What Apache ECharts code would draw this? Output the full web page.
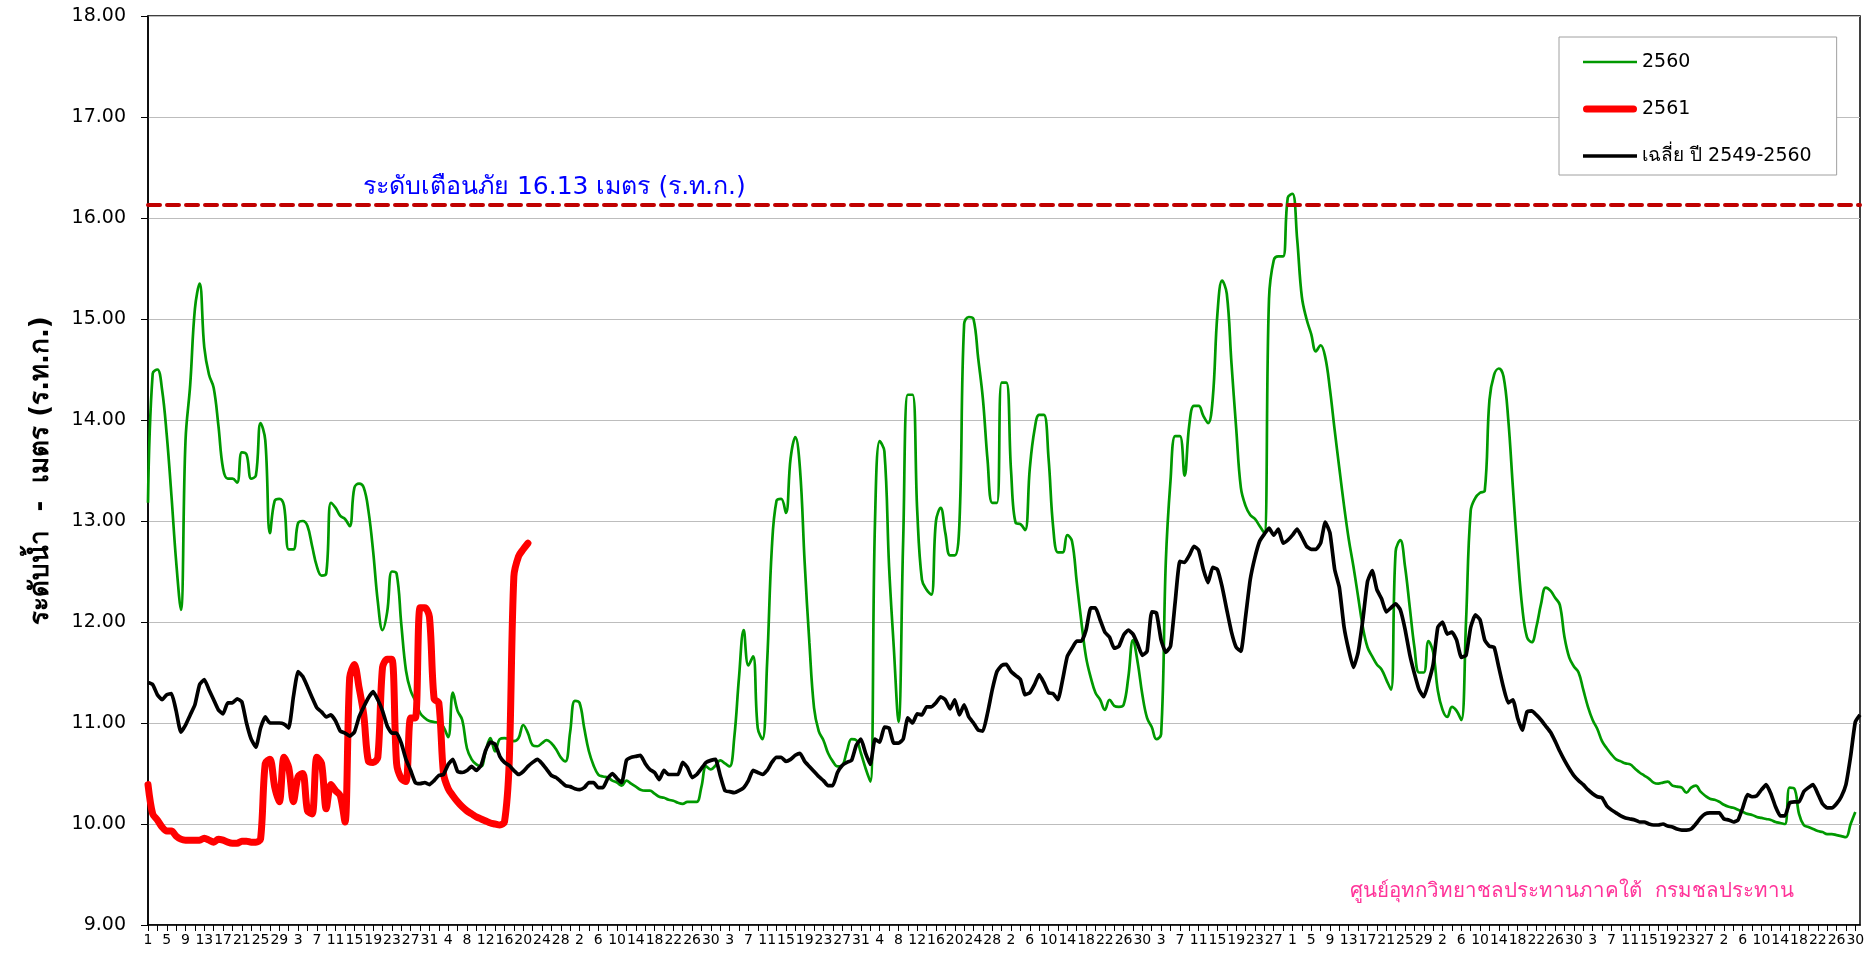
<!DOCTYPE html>
<html>
<head>
<meta charset="utf-8">
<script src="https://cdn.jsdelivr.net/npm/echarts@6/dist/echarts.min.js"></script>
<style>
html,body{margin:0;padding:0;background:#fff;}
#chart{width:1868px;height:961px;}
</style>
</head>
<body>
<div id="chart"></div>
<script>
// Month lengths of the water year (Apr .. Mar), used for the day-of-month category labels
const monthDays = [30,31,30,31,31,30,31,30,31,31,29,31];
const categories = monthDays.flatMap(n => Array.from({length: n}, (_, i) => String(i + 1)));

const yTicks = [9,10,11,12,13,14,15,16,17,18];
const warningLevel = 16.13;

// 2560 (green)
const y2560 = [
13.18,14.46,14.50,14.30,13.85,13.25,12.60,12.12,13.80,14.35,
15.10,15.35,14.72,14.45,14.32,13.95,13.52,13.42,13.42,13.38,
13.68,13.66,13.42,13.45,13.97,13.80,12.88,13.20,13.22,13.15,
12.72,12.72,12.98,13.00,12.95,12.75,12.55,12.46,12.48,13.18,
13.13,13.05,13.02,12.95,13.33,13.37,13.33,13.10,12.70,12.20,
11.92,12.10,12.50,12.48,11.98,11.52,11.32,11.22,11.10,11.05,
11.02,11.01,11.00,10.96,10.86,11.30,11.12,11.03,10.75,10.64,
10.59,10.57,10.72,10.85,10.72,10.84,10.85,10.84,10.82,10.85,
10.98,10.90,10.78,10.77,10.80,10.83,10.80,10.74,10.66,10.62,
10.91,11.22,11.20,10.95,10.72,10.58,10.49,10.47,10.46,10.43,
10.41,10.38,10.43,10.40,10.37,10.34,10.33,10.33,10.30,10.27,
10.26,10.24,10.23,10.21,10.20,10.22,10.22,10.22,10.37,10.57,
10.54,10.58,10.63,10.60,10.57,10.86,11.45,11.92,11.57,11.66,
10.95,10.84,11.60,12.73,13.20,13.22,13.08,13.62,13.83,13.52,
12.59,11.80,11.15,10.92,10.83,10.70,10.62,10.57,10.58,10.72,
10.84,10.83,10.70,10.55,10.42,13.00,13.79,13.69,12.55,11.75,
11.01,12.80,14.25,14.25,13.10,12.42,12.32,12.27,13.00,13.13,
12.88,12.66,12.66,12.98,14.95,15.02,15.00,14.61,14.21,13.60,
13.18,13.18,14.37,14.37,13.50,12.98,12.97,12.91,13.52,13.90,
14.05,14.05,13.62,12.93,12.69,12.69,12.86,12.80,12.40,12.00,
11.65,11.45,11.30,11.23,11.13,11.23,11.17,11.16,11.18,11.45,
11.82,11.60,11.28,11.05,10.96,10.84,10.89,12.60,13.40,13.84,
13.84,13.45,13.95,14.14,14.14,14.04,13.97,14.21,15.05,15.38,
15.25,14.56,13.92,13.33,13.15,13.06,13.02,12.95,12.88,15.20,
15.58,15.62,15.62,16.20,16.24,15.79,15.22,15.00,14.85,14.68,
14.74,14.62,14.30,13.90,13.52,13.15,12.82,12.55,12.25,11.95,
11.75,11.66,11.58,11.53,11.43,11.33,12.70,12.81,12.55,12.15,
11.75,11.50,11.50,11.81,11.70,11.32,11.13,11.06,11.16,11.12,
11.03,12.00,13.10,13.23,13.28,13.30,14.20,14.45,14.51,14.43,
14.01,13.33,12.68,12.14,11.85,11.80,11.95,12.18,12.34,12.31,
12.24,12.17,11.85,11.65,11.56,11.50,11.33,11.16,11.03,10.94,
10.82,10.75,10.69,10.64,10.62,10.60,10.59,10.55,10.51,10.48,
10.45,10.41,10.40,10.41,10.42,10.38,10.37,10.36,10.31,10.36,
10.38,10.32,10.28,10.25,10.24,10.22,10.19,10.17,10.16,10.14,
10.12,10.10,10.09,10.07,10.06,10.05,10.04,10.02,10.01,10.00,
10.36,10.35,10.10,9.99,9.97,9.95,9.93,9.92,9.90,9.90,
9.89,9.88,9.87,10.00,10.12
];

// 2561 (red)
const y2561 = [
10.39,10.10,10.04,9.97,9.93,9.93,9.88,9.85,9.84,9.84,
9.84,9.84,9.86,9.84,9.82,9.85,9.84,9.82,9.81,9.81,
9.83,9.83,9.82,9.82,9.85,10.60,10.64,10.37,10.22,10.66,
10.56,10.22,10.47,10.50,10.13,10.10,10.66,10.60,10.15,10.39,
10.33,10.28,10.02,11.45,11.58,11.35,11.08,10.62,10.61,10.66,
11.55,11.63,11.63,10.60,10.45,10.42,11.05,11.05,12.14,12.14,
12.05,11.24,11.20,10.50,10.35,10.28,10.22,10.17,10.13,10.10,
10.07,10.05,10.03,10.01,10.00,9.99,10.02,10.60,12.45,12.65,
12.72,12.78
];

// Average 2549-2560 (black)
const yAvg = [
11.40,11.38,11.28,11.23,11.28,11.29,11.12,10.91,10.98,11.08,
11.18,11.38,11.43,11.33,11.23,11.13,11.09,11.20,11.20,11.24,
11.21,11.00,10.84,10.76,10.95,11.06,11.00,11.00,11.00,10.99,
10.95,11.26,11.51,11.46,11.36,11.25,11.15,11.11,11.06,11.08,
11.02,10.92,10.90,10.87,10.91,11.06,11.16,11.25,11.31,11.23,
11.12,10.97,10.90,10.90,10.80,10.64,10.53,10.41,10.40,10.41,
10.39,10.43,10.48,10.49,10.59,10.64,10.52,10.51,10.53,10.57,
10.53,10.58,10.73,10.81,10.79,10.67,10.61,10.58,10.53,10.49,
10.52,10.57,10.61,10.64,10.60,10.54,10.48,10.46,10.42,10.38,
10.37,10.35,10.34,10.36,10.41,10.41,10.36,10.36,10.45,10.50,
10.45,10.41,10.63,10.66,10.67,10.68,10.60,10.54,10.51,10.44,
10.53,10.49,10.49,10.49,10.61,10.56,10.46,10.49,10.55,10.61,
10.63,10.64,10.48,10.33,10.32,10.31,10.33,10.36,10.43,10.53,
10.51,10.49,10.53,10.61,10.66,10.66,10.62,10.64,10.68,10.70,
10.62,10.57,10.52,10.47,10.43,10.38,10.38,10.51,10.58,10.61,
10.63,10.78,10.84,10.70,10.59,10.84,10.81,10.96,10.95,10.80,
10.80,10.84,11.05,11.00,11.09,11.08,11.16,11.16,11.20,11.26,
11.23,11.14,11.23,11.08,11.18,11.06,11.00,10.93,10.92,11.10,
11.33,11.51,11.57,11.58,11.51,11.47,11.43,11.28,11.30,11.38,
11.48,11.40,11.30,11.29,11.23,11.43,11.66,11.74,11.81,11.81,
11.92,12.14,12.14,12.02,11.90,11.85,11.74,11.76,11.87,11.92,
11.88,11.78,11.67,11.71,12.10,12.09,11.82,11.70,11.76,12.20,
12.60,12.59,12.66,12.75,12.71,12.52,12.39,12.54,12.52,12.35,
12.12,11.90,11.75,11.71,12.05,12.42,12.64,12.80,12.87,12.93,
12.86,12.92,12.78,12.81,12.86,12.92,12.84,12.75,12.72,12.72,
12.78,12.99,12.88,12.52,12.34,11.95,11.72,11.55,11.70,12.02,
12.40,12.51,12.32,12.23,12.10,12.14,12.18,12.12,11.93,11.68,
11.49,11.33,11.26,11.40,11.58,11.95,12.00,11.88,11.90,11.82,
11.65,11.67,11.95,12.07,12.02,11.82,11.76,11.75,11.55,11.35,
11.20,11.23,11.05,10.93,11.11,11.12,11.08,11.03,10.97,10.91,
10.82,10.72,10.63,10.55,10.48,10.43,10.39,10.34,10.30,10.27,
10.26,10.18,10.14,10.11,10.08,10.06,10.05,10.04,10.02,10.02,
10.00,9.99,9.99,10.00,9.98,9.97,9.95,9.94,9.94,9.95,
10.00,10.06,10.10,10.11,10.11,10.11,10.05,10.04,10.02,10.04,
10.16,10.29,10.27,10.28,10.34,10.39,10.30,10.17,10.08,10.08,
10.21,10.22,10.22,10.32,10.36,10.39,10.30,10.20,10.16,10.16,
10.20,10.27,10.39,10.67,11.01,11.08
];

const seriesNames = ['2560', '2561', 'เฉลี่ย ปี 2549-2560'];
const warningText = 'ระดับเตือนภัย 16.13 เมตร (ร.ท.ก.)';
const sourceText = 'ศูนย์อุทกวิทยาชลประทานภาคใต้  กรมชลประทาน';
const yAxisTitle = 'ระดับน้ำ  -  เมตร (ร.ท.ก.)';

const FONT = '"DejaVu Sans", "Noto Sans", sans-serif';

const chart = echarts.init(document.getElementById('chart'), null, {renderer: 'canvas'});
chart.setOption({
  animation: false,
  backgroundColor: '#ffffff',
  textStyle: {fontFamily: FONT},
  grid: {left: 148, right: 8, top: 16, bottom: 36, show: true, borderColor: '#000', borderWidth: 1.5, backgroundColor: 'transparent'},
  legend: {
    orient: 'vertical',
    left: 1559, top: 37,
    padding: [14, 25, 8, 24],
    itemWidth: 54, itemHeight: 14, itemGap: 25,
    symbolKeepAspect: true,
    backgroundColor: '#fff',
    borderColor: '#a0a0a0', borderWidth: 1,
    textStyle: {fontSize: 19, color: '#000', fontFamily: FONT, lineHeight: 22},
    data: [
      {name: seriesNames[0], icon: 'path://M0,0H54V2.6H0Z'},
      {name: seriesNames[1], icon: 'path://M3.5,0H50.5A3.5,3.5 0 0 1 50.5,7H3.5A3.5,3.5 0 0 1 3.5,0Z'},
      {name: seriesNames[2], icon: 'path://M0,0H54V3.6H0Z'}
    ]
  },
  xAxis: {
    type: 'category',
    boundaryGap: false,
    data: categories,
    axisLine: {lineStyle: {color: '#000', width: 1.5}},
    axisTick: {show: true, interval: 1, length: 6, lineStyle: {color: '#000'}},
    axisLabel: {interval: 3, fontSize: 14, color: '#000', margin: 8, fontFamily: FONT},
    splitLine: {show: false}
  },
  yAxis: {
    type: 'value',
    min: yTicks[0], max: yTicks[yTicks.length - 1], interval: 1,
    name: yAxisTitle,
    nameLocation: 'middle',
    nameGap: 94,
    nameTextStyle: {fontSize: 26, fontWeight: 'bold', color: '#000', fontFamily: FONT},
    axisLine: {show: true, lineStyle: {color: '#000', width: 1.5}},
    axisTick: {show: true, length: 7, lineStyle: {color: '#000'}},
    axisLabel: {fontSize: 19, color: '#000', margin: 22, formatter: v => v.toFixed(2), fontFamily: FONT},
    splitLine: {show: true, lineStyle: {color: '#bdbdbd', width: 1.2}}
  },
  series: [
    {
      name: seriesNames[0], type: 'line', data: y2560,
      smooth: 0.4, symbol: 'none',
      lineStyle: {color: '#009900', width: 2.7},
      itemStyle: {color: '#009900'},
      z: 2,
      markLine: {
        silent: true, symbol: ['none', 'none'],
        label: {show: false},
        lineStyle: {color: '#C00000', width: 4, type: [12, 7], cap: 'round'},
        data: [{yAxis: warningLevel}]
      }
    },
    {
      name: seriesNames[1], type: 'line', data: y2561,
      smooth: 0.3, symbol: 'none',
      lineStyle: {color: '#ff0000', width: 7, cap: 'round', join: 'round'},
      itemStyle: {color: '#ff0000'},
      z: 3
    },
    {
      name: seriesNames[2], type: 'line', data: yAvg,
      smooth: 0.15, symbol: 'none',
      lineStyle: {color: '#000000', width: 3.7, join: 'round'},
      itemStyle: {color: '#000000'},
      z: 4
    }
  ],
  graphic: [
    {type: 'text', left: 363, top: 175, z: 10,
     style: {text: warningText, fill: '#0000ff', fontSize: 25, fontFamily: FONT}},
    {type: 'text', left: 1350, top: 881, z: 10,
     style: {text: sourceText, fill: '#ff3399', fontSize: 20.5, fontFamily: FONT}}
  ]
});
</script>
</body>
</html>
